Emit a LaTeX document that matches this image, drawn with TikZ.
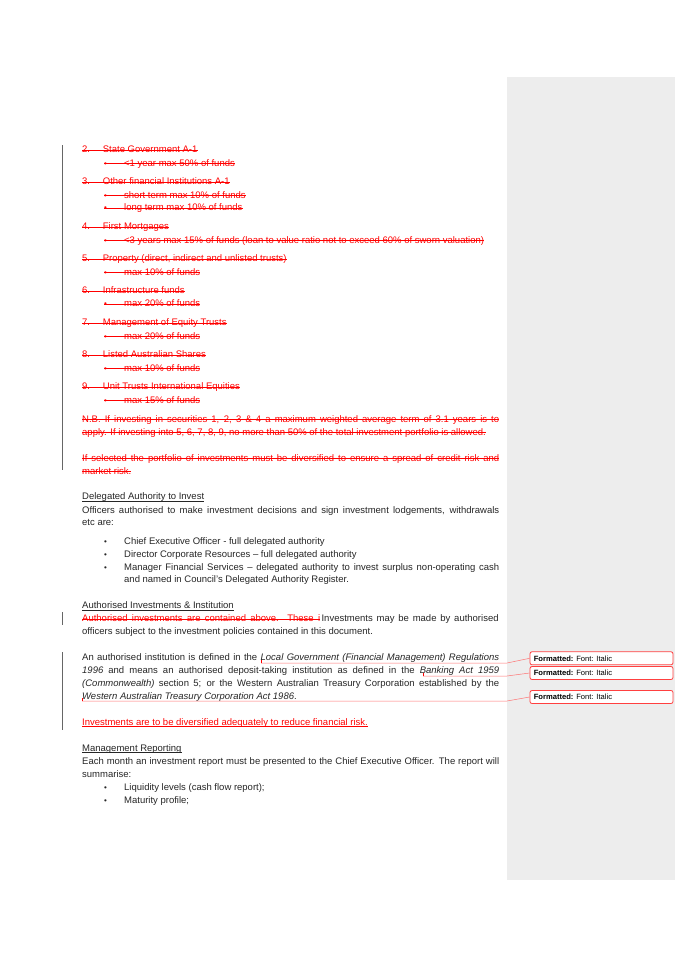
\documentclass[tikz,border=0pt]{standalone}
\usepackage{fontspec}
\setmainfont{Liberation Sans}
\newcommand{\fs}{\fontsize{9.5}{11}\selectfont}
\newcommand{\jl}[2]{\makebox[#1pt][s]{#2}}
\tikzset{
  txt/.style={anchor=base west,inner sep=0pt,text height=6.8pt,text depth=1.8pt,font=\fs,text=black!85},
  del/.style={txt,text=red},
  fmtbox/.style={draw=red!75,line width=.8pt,rounded corners=2pt,fill=white,minimum width=143pt,minimum height=13pt,inner sep=0pt},
  fmtline/.style={red!55,line width=.5pt},
}
% deleted line: node plus strike-through
\newcommand{\delline}[4]{\node[del] (#1) at (#2,#3) {#4};
  \draw[red,line width=.5pt] (#1.west) -- (#1.east);}
\newcommand{\num}[1]{\makebox[20.7pt][l]{#1}}
\newcommand{\bul}{\makebox[20pt][l]{\footnotesize\textbullet}}
\begin{document}
\begin{tikzpicture}[x=1pt,y=-1pt]
\useasboundingbox (0,0) rectangle (675,955);
\fill[white] (0,0) rectangle (675,955);
\fill[black!7] (507,77) rectangle (675,880);
% change bars
\draw[black!60,line width=.6pt] (62,145) -- (62,470);
\draw[black!60,line width=.6pt] (62,612) -- (62,625);
\draw[black!60,line width=.6pt] (62,652) -- (62,730);
% deleted list
\delline{d2}{82}{152.5}{\num{2.}State Government A-1}
\delline{d2a}{104}{166}{\bul<1 year max 50\% of funds}
\delline{d3}{82}{184.7}{\num{3.}Other financial Institutions A-1}
\delline{d3a}{104}{198}{\bul short term max 10\% of funds}
\delline{d3b}{104}{210.7}{\bul long term max 10\% of funds}
\delline{d4}{82}{229.7}{\num{4.}First Mortgages}
\delline{d4a}{104}{243}{\bul<3 years max 15\% of funds (loan to value ratio not to exceed 60\% of sworn valuation)}
\delline{d5}{82}{261.7}{\num{5.}Property (direct, indirect and unlisted trusts)}
\delline{d5a}{104}{275}{\bul max 10\% of funds}
\delline{d6}{82}{293.7}{\num{6.}Infrastructure funds}
\delline{d6a}{104}{306.7}{\bul max 20\% of funds}
\delline{d7}{82}{325.7}{\num{7.}Management of Equity Trusts}
\delline{d7a}{104}{339}{\bul max 20\% of funds}
\delline{d8}{82}{357.7}{\num{8.}Listed Australian Shares}
\delline{d8a}{104}{371}{\bul max 10\% of funds}
\delline{d9}{82}{389.7}{\num{9.}Unit Trusts International Equities}
\delline{d9a}{104}{403}{\bul max 15\% of funds}
\delline{nb1}{82}{422}{\jl{417}{N.B. If investing in securities 1, 2, 3 \& 4 a maximum weighted average term of 3.1 years is to}}
\delline{nb2}{82}{435}{apply. If investing into 5, 6, 7, 8, 9, no more than 50\% of the total investment portfolio is allowed.}
\delline{sel1}{82}{461}{\jl{417}{If selected the portfolio of investments must be diversified to ensure a spread of credit risk and}}
\delline{sel2}{82}{474}{market risk.}
% delegated authority
\node[txt] (hdel) at (82,499.7) {Delegated Authority to Invest};
\draw[black!85,line width=.4pt] ([yshift=-1.6pt]hdel.base west) -- ([yshift=-1.6pt]hdel.base east);
\node[txt] (off1) at (82,513) {\jl{417}{Officers authorised to make investment decisions and sign investment lodgements, withdrawals}};
\node[txt] (off2) at (82,525.7) {etc are:};
\node[txt] (b1) at (104,544.7) {\bul Chief Executive Officer - full delegated authority};
\node[txt] (b2) at (104,557.3) {\bul Director Corporate Resources -- full delegated authority};
\node[txt] (b3) at (104,570) {\bul\jl{375}{Manager Financial Services -- delegated authority to invest surplus non-operating cash}};
\node[txt] (b3b) at (124,582.7) {and named in Council's Delegated Authority Register.};
% authorised investments
\node[txt] (hauth) at (82,608.3) {Authorised Investments \& Institution};
\draw[black!85,line width=.4pt] ([yshift=-1.6pt]hauth.base west) -- ([yshift=-1.6pt]hauth.base east);
\delline{ai1}{82}{621.7}{\jl{238}{Authorised investments are contained above. These i}}
\node[txt] (ai1b) at ([xshift=1pt]ai1.base east) {\jl{177}{Investments may be made by authorised}};
\node[txt] (ai2) at (82,634.3) {officers subject to the investment policies contained in this document.};
\node[txt] (in1) at (82,660.7) {\jl{417}{An authorised institution is defined in the \textit{Local Government (Financial Management) Regulations}}};
\node[txt] (in2) at (82,673.7) {\jl{417}{\textit{1996} and means an authorised deposit-taking institution as defined in the \textit{Banking Act 1959}}};
\node[txt] (in3) at (82,686) {\jl{417}{\textit{(Commonwealth)} section 5; or the Western Australian Treasury Corporation established by the}};
\node[txt] (in4) at (82,699) {\textit{Western Australian Treasury Corporation Act 1986}.};
\node[txt,text=red] (div) at (82,725) {Investments are to be diversified adequately to reduce financial risk.};
\draw[red,line width=.5pt] ([yshift=-1.6pt]div.base west) -- ([yshift=-1.6pt]div.base east);
% management reporting
\node[txt] (hman) at (82,751) {Management Reporting};
\draw[black!85,line width=.4pt] ([yshift=-1.6pt]hman.base west) -- ([yshift=-1.6pt]hman.base east);
\node[txt] (mr1) at (82,764.7) {\jl{417}{Each month an investment report must be presented to the Chief Executive Officer. The report will}};
\node[txt] (mr2) at (82,777.3) {summarise:};
\node[txt] (mb1) at (104,790.7) {\bul Liquidity levels (cash flow report);};
\node[txt] (mb2) at (104,803.3) {\bul Maturity profile;};
% formatting comments
\node[fmtbox] (f1) at (601.5,658.3) {};
\node[fmtbox] (f2) at (601.5,673) {};
\node[fmtbox] (f3) at (601.5,697) {};
\foreach \f in {f1,f2,f3}
  \node[anchor=west,inner sep=0pt,font=\fontsize{7.6}{8}\selectfont] at ([xshift=4pt]\f.west) {\textbf{Formatted:} Font: Italic};
\coordinate (a1) at (261,663);
\coordinate (a2) at (423,676);
\coordinate (a3) at (82,701);
\draw[fmtline] (a1) -- (507,663) -- (f1.west);
\draw[fmtline] (a2) -- (507,676) -- (f2.west);
\draw[fmtline] (a3) -- (507,701) -- (f3.west);
\foreach \a in {a1,a2,a3}
  \draw[red,line width=.7pt] (\a) -- ++(0,-3);
\end{tikzpicture}
\end{document}
